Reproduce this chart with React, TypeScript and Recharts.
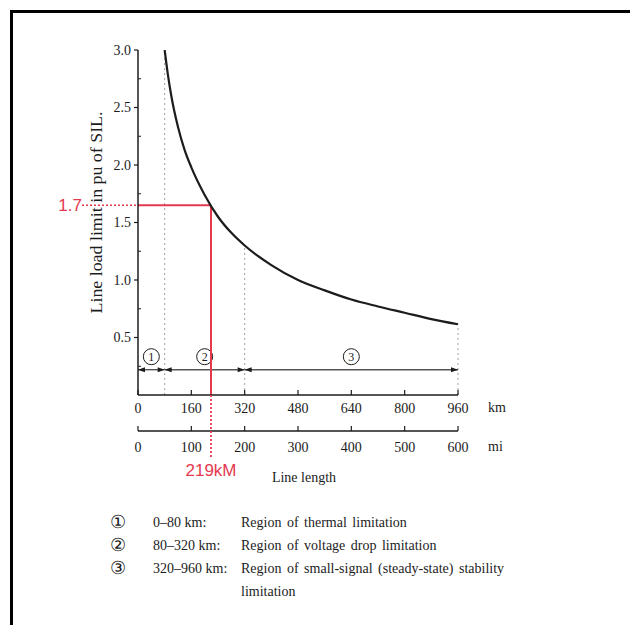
import { LineChart, Line, XAxis, YAxis, ReferenceLine, Label } from "recharts";

// line length (km) vs line load limit (pu of SIL)
const KM = [80, 90, 100, 120, 140, 160, 200, 240, 280, 320, 400, 480, 560, 640, 720, 800, 880, 960];
const PU = [3.0, 2.78, 2.6, 2.33, 2.13, 1.98, 1.74, 1.55, 1.41, 1.3, 1.13, 1.0, 0.91, 0.83, 0.77, 0.715, 0.66, 0.615];

const KM_TICKS = [0, 160, 320, 480, 640, 800, 960];
const MI_TICKS = [0, 100, 200, 300, 400, 500, 600];
const PU_TICKS = [0.5, 1.0, 1.5, 2.0, 2.5, 3.0];
const PU_MINOR = [0.25, 0.75, 1.25, 1.75, 2.25, 2.75];

// limitation regions along the length axis
const REGION_FROM = [0, 80, 320];
const REGION_TO = [80, 320, 960];
const REGION_MARK = ["1", "2", "3"];
const REGION_LEVEL = 0.22;

// the red read-off
const READ_KM = 219;
const READ_PU = 1.65;
const READ_KM_LABEL = "219kM";
const READ_PU_LABEL = "1.7";

const LEGEND_MARK = ["①", "②", "③"];
const LEGEND_RANGE = ["0–80 km:", "80–320 km:", "320–960 km:"];
const LEGEND_TEXT = [
  "Region of thermal limitation",
  "Region of voltage drop limitation",
  "Region of small-signal (steady-state) stability limitation",
];

const data = KM.map((km, i) => ({ km, pu: PU[i] }));
// the miles scale has no series of its own; this empty one just carries its extent
const miData = MI_TICKS.map((mi) => ({ mi }));
const puAt = (km: number) => data.find((d) => d.km === km)?.pu ?? 0;

const SERIF = '"Liberation Serif", "Times New Roman", serif';
const SANS = '"Liberation Sans", Arial, sans-serif';
const INK = "#1c1c1c";
const RED = "#e4384f";

function KmTick(props: any) {
  const { x, y, payload } = props;
  const v = payload.value;
  if (v === READ_KM) {
    return (
      <g>
        <line x1={x} y1={y} x2={x} y2={y + 62} stroke={RED} strokeWidth={1.8} strokeDasharray="2 2" />
        <text x={x} y={y + 75} dy="0.35em" textAnchor="middle" fill={RED} fontFamily={SANS} fontSize={17}>
          {READ_KM_LABEL}
        </text>
      </g>
    );
  }
  return (
    <g>
      <line x1={x} y1={y} x2={x} y2={y - 5} stroke={INK} strokeWidth={1.2} />
      <text x={x} y={y + 13} dy="0.35em" textAnchor="middle" fill={INK} fontFamily={SERIF} fontSize={14}>
        {v}
      </text>
    </g>
  );
}

function MiTick(props: any) {
  const { x, y, payload } = props;
  return (
    <g>
      <line x1={x} y1={y} x2={x} y2={y - 5} stroke={INK} strokeWidth={1.2} />
      <text x={x} y={y + 16} dy="0.35em" textAnchor="middle" fill={INK} fontFamily={SERIF} fontSize={14}>
        {payload.value}
      </text>
    </g>
  );
}

function PuTick(props: any) {
  const { x, y, payload } = props;
  const v = payload.value;
  if (v === READ_PU) {
    return (
      <g>
        <line x1={x - 56} y1={y} x2={x} y2={y} stroke={RED} strokeWidth={1.5} strokeDasharray="2 2" />
        <text x={x - 56} y={y} dy="0.35em" textAnchor="end" fill={RED} fontFamily={SANS} fontSize={17}>
          {READ_PU_LABEL}
        </text>
      </g>
    );
  }
  if (PU_MINOR.includes(v)) {
    return <line x1={x} y1={y} x2={x + 3} y2={y} stroke={INK} strokeWidth={1} />;
  }
  return (
    <g>
      <line x1={x - 4} y1={y} x2={x} y2={y} stroke={INK} strokeWidth={1.2} />
      <text x={x - 7} y={y} dy="0.35em" textAnchor="end" fill={INK} fontFamily={SERIF} fontSize={14}>
        {v.toFixed(1)}
      </text>
    </g>
  );
}

function RegionShape(props: any) {
  const { x1, y1, x2, y2 } = props;
  return (
    <g>
      <line x1={x1} y1={y1} x2={x2} y2={y2} stroke="#555" strokeWidth={1.4} />
      <polygon points={`${x1},${y1} ${x1 + 7},${y1 - 2.5} ${x1 + 7},${y1 + 2.5}`} fill={INK} />
      <polygon points={`${x2},${y2} ${x2 - 7},${y2 - 2.5} ${x2 - 7},${y2 + 2.5}`} fill={INK} />
    </g>
  );
}

const regionMark = (mark: string) => (props: any) => {
  const { viewBox } = props;
  const cx = viewBox.x + viewBox.width / 2;
  const cy = viewBox.y - 13;
  return (
    <g>
      <circle cx={cx} cy={cy} r={8} fill="#fff" stroke={INK} strokeWidth={1} />
      <text x={cx} y={cy} dy="0.35em" textAnchor="middle" fill={INK} fontFamily={SERIF} fontSize={12}>
        {mark}
      </text>
    </g>
  );
};

function PuLabel(props: any) {
  const { viewBox } = props;
  const x = viewBox.x + 18;
  const y = viewBox.y + viewBox.height / 2 - 10;
  return (
    <text
      x={x}
      y={y}
      dy="0.35em"
      transform={`rotate(-90, ${x}, ${y})`}
      textAnchor="middle"
      fill={INK}
      fontFamily={SERIF}
      fontSize={16}
      textLength={202}
      lengthAdjust="spacingAndGlyphs"
    >
      Line load limit in pu of SIL.
    </text>
  );
}

export default function App() {
  return (
    <div style={{ position: "absolute", left: 0, top: 0, width: 630, height: 625, background: "#fff", overflow: "hidden" }}>
      <div
        style={{
          position: "absolute",
          left: 10,
          top: 10,
          width: 620,
          height: 615,
          borderTop: "3px solid #000",
          borderLeft: "3px solid #000",
        }}
      />
      <div style={{ position: "absolute", left: 0, top: 0 }}>
        <LineChart width={630} height={625} data={data} margin={{ top: 50, right: 172, bottom: 149, left: 78 }}>
          <XAxis
            dataKey="km"
            type="number"
            domain={[0, 960]}
            ticks={[...KM_TICKS, READ_KM]}
            interval={0}
            tickLine={false}
            tickSize={0}
            tickMargin={0}
            tick={KmTick}
            height={36}
            axisLine={{ stroke: INK, strokeWidth: 1.5 }}
          >
            <Label value="km" position="right" offset={30} dy={-6} fill={INK} fontFamily={SERIF} fontSize={14} />
          </XAxis>
          <XAxis
            xAxisId="mi"
            dataKey="mi"
            type="number"
            domain={[0, 600]}
            ticks={MI_TICKS}
            interval={0}
            tickLine={false}
            tickSize={0}
            tickMargin={0}
            tick={MiTick}
            height={45}
            axisLine={{ stroke: INK, strokeWidth: 1.5 }}
          >
            <Label value="mi" position="right" offset={30} dy={-7} fill={INK} fontFamily={SERIF} fontSize={14} />
            <Label value="Line length" position="insideBottom" offset={-6} dx={6} fill={INK} fontFamily={SERIF} fontSize={14} />
          </XAxis>
          <YAxis
            type="number"
            domain={[0, 3]}
            allowDataOverflow
            ticks={[...PU_MINOR, ...PU_TICKS, READ_PU]}
            interval={0}
            tickLine={false}
            tickSize={0}
            tickMargin={0}
            tick={PuTick}
            width={60}
            axisLine={{ stroke: INK, strokeWidth: 1.5 }}
          >
            <Label content={PuLabel} />
          </YAxis>

          {REGION_TO.map((b) => (
            <ReferenceLine
              key={`b-${b}`}
              segment={[
                { x: b, y: 0 },
                { x: b, y: puAt(b) },
              ]}
              stroke="#a0a0a0"
              strokeWidth={1}
              strokeDasharray="2 3"
            />
          ))}
          {REGION_FROM.map((from, i) => (
            <ReferenceLine
              key={`r-${i}`}
              segment={[
                { x: from, y: REGION_LEVEL },
                { x: REGION_TO[i], y: REGION_LEVEL },
              ]}
              shape={RegionShape}
              label={{ content: regionMark(REGION_MARK[i]) }}
            />
          ))}
          <ReferenceLine
            segment={[
              { x: 0, y: READ_PU },
              { x: READ_KM, y: READ_PU },
            ]}
            stroke={RED}
            strokeWidth={2}
          />
          <ReferenceLine
            segment={[
              { x: READ_KM, y: READ_PU },
              { x: READ_KM, y: 0 },
            ]}
            stroke={RED}
            strokeWidth={2}
          />

          <Line
            xAxisId="mi"
            data={miData}
            dataKey={() => null}
            stroke="none"
            dot={false}
            activeDot={false}
            legendType="none"
            isAnimationActive={false}
          />
          <Line dataKey="pu" type="monotone" stroke={INK} strokeWidth={2.2} dot={false} isAnimationActive={false} />
        </LineChart>
      </div>

      {LEGEND_MARK.map((m, i) => (
        <div
          key={m}
          style={{
            position: "absolute",
            left: 110,
            top: 511 + i * 23,
            fontFamily: SERIF,
            fontSize: 14,
            lineHeight: "23px",
            color: INK,
          }}
        >
          <span style={{ position: "absolute", left: 0, top: 0, fontSize: 18 }}>{m}</span>
          <span style={{ position: "absolute", left: 43, top: 0, whiteSpace: "nowrap" }}>{LEGEND_RANGE[i]}</span>
          <span style={{ position: "absolute", left: 131, top: 0, width: 285, wordSpacing: 2 }}>{LEGEND_TEXT[i]}</span>
        </div>
      ))}
    </div>
  );
}
